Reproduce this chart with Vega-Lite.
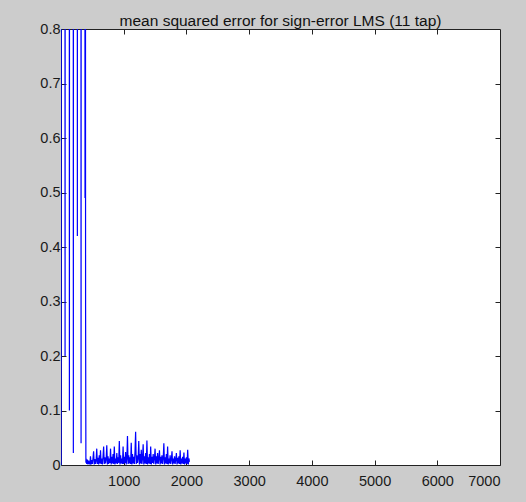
{
  "$schema": "https://vega.github.io/schema/vega-lite/v6.json",
  "width": 439,
  "height": 436,
  "autosize": {"type": "none"},
  "padding": {"left": 61, "top": 29, "right": 26, "bottom": 37},
  "background": "#cccccc",
  "title": {"text": "mean squared error for sign-error LMS (11 tap)", "font": "Liberation Sans", "fontSize": 15.5, "fontWeight": "normal", "color": "#111111", "anchor": "middle", "offset": -8},
  "config": {
    "view": {"fill": "white", "stroke": "#222222", "strokeWidth": 1},
    "axis": {"domain": false, "grid": false, "ticks": true, "tickSize": -5, "tickColor": "#222222", "labelFont": "Liberation Sans", "labelFontSize": 14.5, "labelColor": "#1a1a1a", "title": null, "labelPadding": 6}
  },
  "data": {"values": [
    {"n": 1, "mse": 0}, {"n": 4, "mse": 2}, {"n": 62, "mse": 2}, {"n": 65, "mse": 0.2}, {"n": 68, "mse": 2},
    {"n": 131, "mse": 2}, {"n": 134, "mse": 0.1}, {"n": 137, "mse": 2},
    {"n": 194, "mse": 2}, {"n": 197, "mse": 0.022}, {"n": 200, "mse": 2},
    {"n": 258, "mse": 2}, {"n": 261, "mse": 0.42}, {"n": 264, "mse": 2},
    {"n": 317, "mse": 2}, {"n": 320, "mse": 0.04}, {"n": 323, "mse": 2},
    {"n": 378, "mse": 2}, {"n": 383, "mse": 0.49}, {"n": 387, "mse": 2}, {"n": 392, "mse": 0.29}, {"n": 397, "mse": 0.004},
    {"n": 400, "mse": 0.012}, {"n": 410, "mse": 0.002}, {"n": 420, "mse": 0.01}, {"n": 430, "mse": 0.001}, {"n": 440, "mse": 0.008},
    {"n": 450, "mse": 0.003}, {"n": 460, "mse": 0.002}, {"n": 470, "mse": 0.016}, {"n": 480, "mse": 0.001}, {"n": 490, "mse": 0.009},
    {"n": 500, "mse": 0.002}, {"n": 510, "mse": 0.012}, {"n": 520, "mse": 0.025}, {"n": 530, "mse": 0.001}, {"n": 540, "mse": 0.011},
    {"n": 550, "mse": 0.002}, {"n": 560, "mse": 0.008}, {"n": 570, "mse": 0.03}, {"n": 580, "mse": 0.002}, {"n": 590, "mse": 0.013},
    {"n": 600, "mse": 0.001}, {"n": 610, "mse": 0.018}, {"n": 620, "mse": 0.003}, {"n": 630, "mse": 0.027}, {"n": 640, "mse": 0.002},
    {"n": 650, "mse": 0.012}, {"n": 660, "mse": 0.001}, {"n": 670, "mse": 0.015}, {"n": 680, "mse": 0.034}, {"n": 690, "mse": 0.002},
    {"n": 700, "mse": 0.014}, {"n": 710, "mse": 0.003}, {"n": 720, "mse": 0.01}, {"n": 730, "mse": 0.036}, {"n": 740, "mse": 0.001},
    {"n": 750, "mse": 0.016}, {"n": 760, "mse": 0.002}, {"n": 770, "mse": 0.012}, {"n": 780, "mse": 0.004}, {"n": 790, "mse": 0.03},
    {"n": 800, "mse": 0.001}, {"n": 810, "mse": 0.015}, {"n": 820, "mse": 0.003}, {"n": 830, "mse": 0.02}, {"n": 840, "mse": 0.002},
    {"n": 850, "mse": 0.034}, {"n": 860, "mse": 0.001}, {"n": 870, "mse": 0.012}, {"n": 880, "mse": 0.003}, {"n": 890, "mse": 0.022},
    {"n": 900, "mse": 0.002}, {"n": 910, "mse": 0.014}, {"n": 920, "mse": 0.004}, {"n": 930, "mse": 0.044}, {"n": 940, "mse": 0.001},
    {"n": 950, "mse": 0.018}, {"n": 960, "mse": 0.003}, {"n": 970, "mse": 0.012}, {"n": 980, "mse": 0.002}, {"n": 990, "mse": 0.034},
    {"n": 1000, "mse": 0.002}, {"n": 1010, "mse": 0.015}, {"n": 1020, "mse": 0.004}, {"n": 1030, "mse": 0.024}, {"n": 1040, "mse": 0.001},
    {"n": 1050, "mse": 0.012}, {"n": 1060, "mse": 0.053}, {"n": 1070, "mse": 0.002}, {"n": 1080, "mse": 0.018}, {"n": 1090, "mse": 0.003},
    {"n": 1100, "mse": 0.014}, {"n": 1110, "mse": 0.002}, {"n": 1120, "mse": 0.041}, {"n": 1130, "mse": 0.001}, {"n": 1140, "mse": 0.02},
    {"n": 1150, "mse": 0.003}, {"n": 1160, "mse": 0.015}, {"n": 1170, "mse": 0.002}, {"n": 1180, "mse": 0.025}, {"n": 1190, "mse": 0.061},
    {"n": 1200, "mse": 0.002}, {"n": 1210, "mse": 0.018}, {"n": 1220, "mse": 0.004}, {"n": 1230, "mse": 0.012}, {"n": 1240, "mse": 0.044},
    {"n": 1250, "mse": 0.001}, {"n": 1260, "mse": 0.02}, {"n": 1270, "mse": 0.003}, {"n": 1280, "mse": 0.028}, {"n": 1290, "mse": 0.002},
    {"n": 1300, "mse": 0.012}, {"n": 1310, "mse": 0.038}, {"n": 1320, "mse": 0.001}, {"n": 1330, "mse": 0.016}, {"n": 1340, "mse": 0.003},
    {"n": 1350, "mse": 0.022}, {"n": 1360, "mse": 0.002}, {"n": 1370, "mse": 0.045}, {"n": 1380, "mse": 0.001}, {"n": 1390, "mse": 0.014},
    {"n": 1400, "mse": 0.003}, {"n": 1410, "mse": 0.02}, {"n": 1420, "mse": 0.002}, {"n": 1430, "mse": 0.034}, {"n": 1440, "mse": 0.001},
    {"n": 1450, "mse": 0.015}, {"n": 1460, "mse": 0.004}, {"n": 1470, "mse": 0.02}, {"n": 1480, "mse": 0.002}, {"n": 1490, "mse": 0.012},
    {"n": 1500, "mse": 0.03}, {"n": 1510, "mse": 0.001}, {"n": 1520, "mse": 0.016}, {"n": 1530, "mse": 0.003}, {"n": 1540, "mse": 0.022},
    {"n": 1550, "mse": 0.002}, {"n": 1560, "mse": 0.012}, {"n": 1570, "mse": 0.027}, {"n": 1580, "mse": 0.001}, {"n": 1590, "mse": 0.015},
    {"n": 1600, "mse": 0.003}, {"n": 1610, "mse": 0.018}, {"n": 1620, "mse": 0.002}, {"n": 1630, "mse": 0.012}, {"n": 1640, "mse": 0.04},
    {"n": 1650, "mse": 0.001}, {"n": 1660, "mse": 0.014}, {"n": 1670, "mse": 0.003}, {"n": 1680, "mse": 0.02}, {"n": 1690, "mse": 0.002},
    {"n": 1700, "mse": 0.034}, {"n": 1710, "mse": 0.001}, {"n": 1720, "mse": 0.012}, {"n": 1730, "mse": 0.003}, {"n": 1740, "mse": 0.018},
    {"n": 1750, "mse": 0.002}, {"n": 1760, "mse": 0.01}, {"n": 1770, "mse": 0.025}, {"n": 1780, "mse": 0.001}, {"n": 1790, "mse": 0.012},
    {"n": 1800, "mse": 0.003}, {"n": 1810, "mse": 0.016}, {"n": 1820, "mse": 0.002}, {"n": 1830, "mse": 0.01}, {"n": 1840, "mse": 0.022},
    {"n": 1850, "mse": 0.001}, {"n": 1860, "mse": 0.013}, {"n": 1870, "mse": 0.003}, {"n": 1880, "mse": 0.016}, {"n": 1890, "mse": 0.002},
    {"n": 1900, "mse": 0.027}, {"n": 1910, "mse": 0.001}, {"n": 1920, "mse": 0.012}, {"n": 1930, "mse": 0.003}, {"n": 1940, "mse": 0.015},
    {"n": 1950, "mse": 0.002}, {"n": 1960, "mse": 0.023}, {"n": 1970, "mse": 0.001}, {"n": 1980, "mse": 0.012}, {"n": 1990, "mse": 0.003},
    {"n": 2000, "mse": 0.014}, {"n": 2010, "mse": 0.002}, {"n": 2020, "mse": 0.028}, {"n": 2030, "mse": 0.001}, {"n": 2040, "mse": 0.012},
    {"n": 2048, "mse": 0.006}
  ]},
  "layer": [
    {
      "mark": {"type": "line", "color": "#0000ff", "strokeWidth": 1.2, "clip": true},
      "encoding": {
        "x": {"field": "n", "type": "quantitative", "scale": {"domain": [0, 7000], "nice": false, "zero": false}, "axis": {"orient": "bottom", "values": [1000, 2000, 3000, 4000, 5000, 6000, 7000], "format": "d", "labelPadding": 14}},
        "y": {"field": "mse", "type": "quantitative", "scale": {"domain": [0, 0.8], "nice": false}, "axis": {"orient": "left", "values": [0, 0.1, 0.2, 0.3, 0.4, 0.5, 0.6, 0.7, 0.8], "format": ".1~f", "labelPadding": 6}}
      }
    },
    {
      "mark": {"type": "line", "opacity": 0, "clip": true},
      "encoding": {
        "x": {"field": "n", "type": "quantitative", "axis": {"orient": "top", "values": [1000, 2000, 3000, 4000, 5000, 6000], "labels": false}},
        "y": {"field": "mse", "type": "quantitative", "axis": {"orient": "right", "values": [0.1, 0.2, 0.3, 0.4, 0.5, 0.6, 0.7], "labels": false}}
      }
    }
  ],
  "resolve": {"axis": {"x": "independent", "y": "independent"}}
}
